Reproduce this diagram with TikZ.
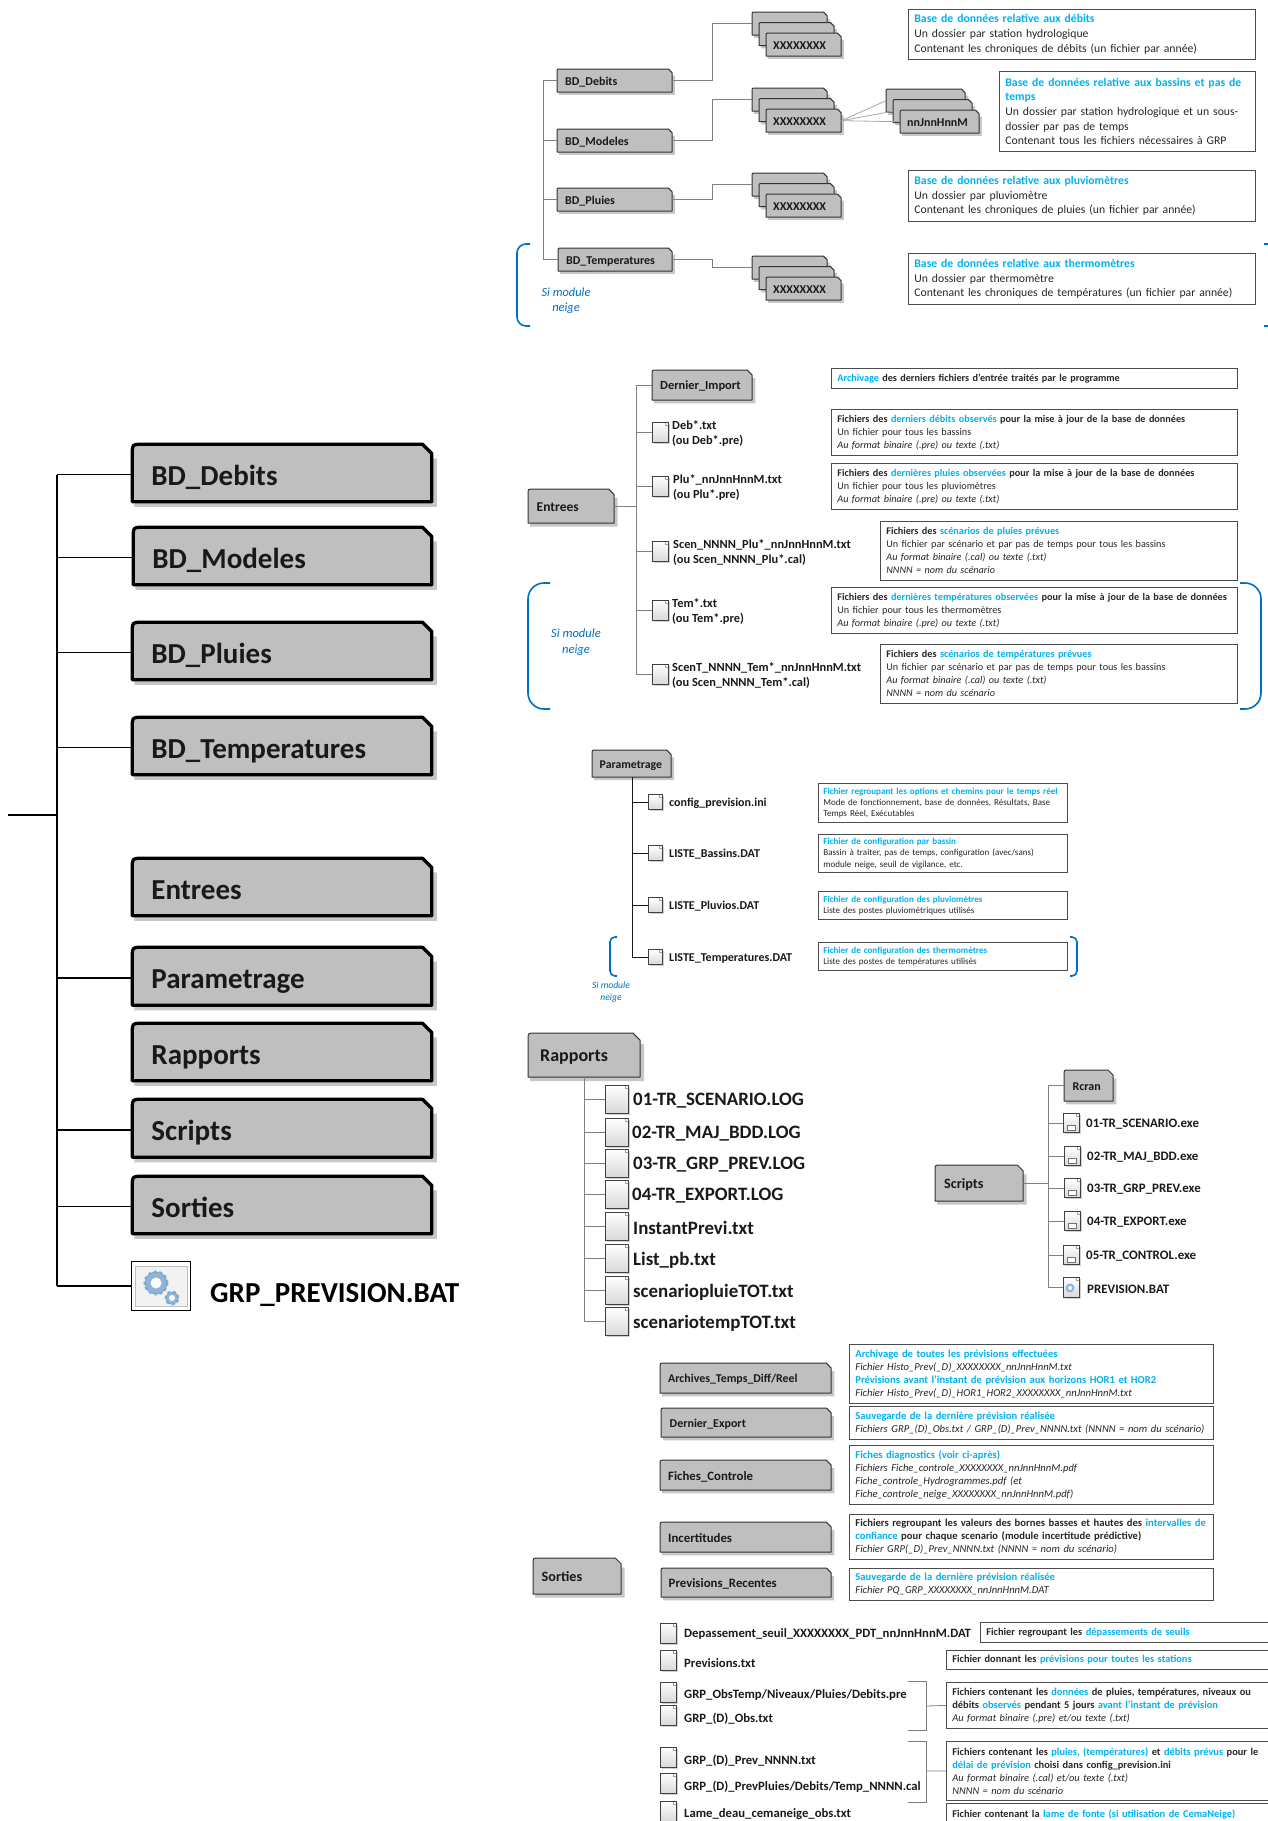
\documentclass[tikz,border=0pt]{standalone}
\usepackage{fontspec}
\setmainfont{Carlito}
\usepackage{xcolor}
\usepackage{tikz}
\usetikzlibrary{shadows}
\definecolor{cyantxt}{HTML}{00B0F0}
\definecolor{neigeblue}{HTML}{0070C0}
\definecolor{folderfill}{HTML}{BFBFBF}
\definecolor{gearblue}{HTML}{8FB4D9}
\newcommand*{\cy}[1]{\textcolor{cyantxt}{#1}}
\newcommand*{\foldernode}[8][]{\pgfmathsetmacro\fcut{#6*.16}\pgfmathsetmacro\fsh{1.5+#6*.06}\pgfmathsetmacro\ftw{#5-2*#7}%
\begin{scope}[shift={(#3,#4)}]\fill[black!22](2,#6)--(2,{#6+\fsh})--({#5+\fsh},{#6+\fsh})--({#5+\fsh},{\fcut+\fsh})--(#5,{\fcut+\fsh})--cycle;%
\filldraw[fill=folderfill,draw=black!80,line width=1pt,line join=round,#1](0,#6)--(#5,#6)--(#5,\fcut)--({#5-\fcut},0)--(\fcut,0)..controls(0,0)..(0,\fcut)--cycle;\end{scope}%
\node[foldertxt=12,#1,draw=none,anchor=north west,inner ysep=0pt,inner xsep=#7pt,minimum width=#5pt,minimum height=#6pt,text width=\ftw pt,align=left](#2)at(#3,#4){#8};}
\newcommand*{\folderstack}[5]{\pgfmathsetmacro\stkxb{#2+7}\pgfmathsetmacro\stkxc{#2+14}\pgfmathsetmacro\stkyb{#3+10.5}\pgfmathsetmacro\stkyc{#3+21}%
\foldernode{#1A}{#2}{#3}{#4}{23}{7}{}\foldernode{#1B}{\stkxb}{\stkyb}{#4}{23}{7}{}\foldernode{#1}{\stkxc}{\stkyc}{#4}{23}{7}{#5}}
\tikzset{
foldertxt/.style={font=\fontsize{#1}{#1}\selectfont\bfseries,text=black!90,text height=.75*#1pt,text depth=0pt},
bigfolder/.style={line width=3.3pt,draw=black,foldertxt=29},
fileicon/.style 2 args={draw=black!75,line width=.8pt,top color=white,bottom color=black!15,minimum width=#1pt,minimum height=#2pt,inner sep=0pt,
  drop shadow={shadow xshift=1.5pt,shadow yshift=-1.5pt,fill=black!30,opacity=.6},
  path picture={\draw[black!35,line width=.4pt]([xshift=-3pt]path picture bounding box.north east)--([xshift=-3pt,yshift=-3pt]path picture bounding box.north east)--([yshift=-3pt]path picture bounding box.north east);}},
filetxt/.style 2 args={anchor=west,inner sep=0pt,align=left,text=black!90,yshift=-.1*#1pt,font=\fontsize{#1}{#2}\selectfont\bfseries},
descbox/.style n args={4}{draw=black!70,line width=.8pt,anchor=north west,inner ysep=0pt,inner xsep=6pt,minimum height=#2pt,text width=#1pt-12pt,align=left,text=black!85,font=\fontsize{#3}{#4}\selectfont},
treeline/.style={draw=black!50,line width=.8pt},
darkline/.style={draw=black!90,line width=1pt},
neige/.style={draw=neigeblue,line width=1.6pt,rounded corners=#1pt},
neigetxt/.style 2 args={text=neigeblue,align=center,inner sep=0pt,font=\fontsize{#1}{#2}\selectfont\itshape}
}
\begin{document}
\begin{tikzpicture}[x=1pt,y=-1pt]
\clip(0,0)rectangle(1268,1821);

\foldernode[bigfolder]{lbdd}{132.3}{444.3}{299.5}{57.5}{17.5}{BD\_Debits}
\foldernode[bigfolder]{lbdm}{133.3}{527.3}{298.5}{57.5}{17.5}{BD\_Modeles}
\foldernode[bigfolder]{lbdp}{132.3}{622.3}{299.5}{57.5}{17.5}{BD\_Pluies}
\foldernode[bigfolder]{lbdt}{132.3}{717.3}{299.5}{57.5}{17.5}{BD\_Temperatures}
\foldernode[bigfolder]{lent}{132.3}{858.3}{299.5}{57.5}{17.5}{Entrees}
\foldernode[bigfolder]{lpar}{132.3}{947.3}{299.5}{58}{17.5}{Parametrage}
\foldernode[bigfolder]{lrap}{132.3}{1023.3}{299.5}{57.5}{17.5}{Rapports}
\foldernode[bigfolder]{lscr}{132.3}{1099.3}{299.5}{58}{17.5}{Scripts}
\foldernode[bigfolder]{lsor}{132.3}{1176.3}{299.5}{57.5}{17.5}{Sorties}
\node[draw=black,line width=1.5pt,fill=white,minimum width=59pt,minimum height=49pt,inner sep=0pt](lgear)at(161,1286){};
\draw[black!25,fill=black!5]([shift={(-26,-20)}]lgear.center)rectangle([shift={(26,20)}]lgear.center);
\foreach\sx/\sy/\r in{-5/-3/11,11/12/6}{
\draw[gearblue,line width=3pt,dash pattern=on 3pt off 2.5pt]([shift={(\sx,\sy)}]lgear.center)circle(\r pt);
\draw[gearblue!80!black,fill=gearblue,line width=.4pt]([shift={(\sx,\sy)}]lgear.center)circle(\r pt);
\fill[white]([shift={(\sx,\sy)}]lgear.center)circle(.5*\r pt);}
\node[filetxt={29}{32},text=black](lgrp)at(210,1292){GRP\_PREVISION.BAT};
\coordinate(lroot)at(8,815);
\coordinate(ltrunk)at(57,815);
\draw[draw=black,line width=1.4pt](lroot)--(ltrunk);
\draw[draw=black,line width=1.4pt](ltrunk|-lbdd.west)--(ltrunk|-lgear.west);
\foreach\n in{lbdd,lbdm,lbdp,lbdt,lpar,lscr,lsor,lgear}\draw[draw=black,line width=1.2pt](ltrunk|-\n.west)--(\n.west);

\foldernode{bdd}{557}{69}{115}{23}{8}{BD\_Debits}
\foldernode{bdm}{557}{129}{115}{23}{8}{BD\_Modeles}
\foldernode{bdp}{557}{188}{115}{23}{8}{BD\_Pluies}
\foldernode{bdt}{558}{248}{114}{23}{8}{BD\_Temperatures}
\folderstack{sdeb}{752}{12}{75}{XXXXXXXX}
\folderstack{smod}{752}{88}{75}{XXXXXXXX}
\folderstack{splu}{752}{173}{75}{XXXXXXXX}
\folderstack{stem}{752}{256}{75}{XXXXXXXX}
\folderstack{snn}{886}{89}{79}{nnJnnHnnM}
\coordinate(tbd)at(543,81);
\coordinate(cbd)at(712,81);
\draw[treeline](tbd|-bdd.west)--(tbd|-bdt.west);
\foreach\n in{bdd,bdm,bdp,bdt}\draw[treeline](tbd|-\n.west)--(\n.west);
\foreach\a/\b in{bdd/sdebA,bdm/smodA,bdp/spluA,bdt/stemA}\draw[treeline](\a.east)--(cbd|-\a.east)--(cbd|-\b.west)--(\b.west);
\foreach\b in{snnA,snnB,snn}\draw[draw=black!35,line width=.8pt](smod.east)--(\b.west);
\node[descbox={347}{50}{11.7}{14.6}](dbd)at(908,9){\cy{\bfseries Base de données relative aux débits}\\Un dossier par station hydrologique\\Contenant les chroniques de débits (un fichier par année)};
\node[descbox={256}{80}{11.7}{14.6}](dbm)at(999,71){\cy{\bfseries Base de données relative aux bassins et pas de temps}\\Un dossier par station hydrologique et un sous-dossier par pas de temps\\Contenant tous les fichiers nécessaires à GRP};
\node[descbox={347}{51}{11.7}{14.6}](dbp)at(908,170){\cy{\bfseries Base de données relative aux pluviomètres}\\Un dossier par pluviomètre\\Contenant les chroniques de pluies (un fichier par année)};
\node[descbox={347}{51}{11.7}{14.6}](dbt)at(908,253){\cy{\bfseries Base de données relative aux thermomètres}\\Un dossier par thermomètre\\Contenant les chroniques de températures (un fichier par année)};
\draw[neige=9](530,244)--(517,244)--(517,326)--(530,326);
\draw[neige=9](1264,244)--(1278,244)--(1278,326)--(1264,326);
\node[neigetxt={12.4}{15}](nbd)at(566,301){Si module\\neige};

\foldernode[foldertxt=13.5]{ent}{528}{489}{86}{34}{8.5}{Entrees}
\foldernode[foldertxt=12.4]{dimp}{652}{370}{100}{30}{8}{Dernier\_Import}
\foreach\n/\y/\x/\t in{fdeb/432/672/{Deb*.txt\\(ou Deb*.pre)},fplu/486/673/{Plu*\_nnJnnHnnM.txt\\(ou Plu*.pre)},fscn/551/673/{Scen\_NNNN\_Plu*\_nnJnnHnnM.txt\\(ou Scen\_NNNN\_Plu*.cal)},ftem/610/672/{Tem*.txt\\(ou Tem*.pre)},fsct/674/672/{ScenT\_NNNN\_Tem*\_nnJnnHnnM.txt\\(ou Scen\_NNNN\_Tem*.cal)}}{
\node[fileicon={16}{20}](\n)at(660,\y){};
\node[filetxt={12.4}{15}](\n txt)at(\x,\y){\t};}
\coordinate(tent)at(636,507);
\draw[treeline](tent|-dimp.west)--(tent|-fsct.west);
\draw[treeline](ent.east)--(tent|-ent.east);
\foreach\n in{dimp,fdeb,fplu,fscn,ftem,fsct}\draw[treeline](tent|-\n.west)--(\n.west);
\node[descbox={406}{20}{10.2}{13}](den)at(831,368){\textbf{\cy{Archivage} des derniers fichiers d’entrée traités par le programme}};
\node[descbox={406}{46}{10.2}{13}](dde)at(831,409){\textbf{Fichiers des \cy{derniers débits observés} pour la mise à jour de la base de données}\\Un fichier pour tous les bassins\\\textit{Au format binaire (.pre) ou texte (.txt)}};
\node[descbox={406}{46}{10.2}{13}](dpl)at(831,463){\textbf{Fichiers des \cy{dernières pluies observées} pour la mise à jour de la base de données}\\Un fichier pour tous les pluviomètres\\\textit{Au format binaire (.pre) ou texte (.txt)}};
\node[descbox={357}{59}{10.2}{13}](dsc)at(880,521){\textbf{Fichiers des \cy{scénarios de pluies prévues}}\\Un fichier par scénario et par pas de temps pour tous les bassins\\\textit{Au format binaire (.cal) ou texte (.txt)}\\\textit{NNNN = nom du scénario}};
\node[descbox={406}{46}{10.2}{13}](dte)at(831,587){\textbf{Fichiers des \cy{dernières températures observées} pour la mise à jour de la base de données}\\Un fichier pour tous les thermomètres\\\textit{Au format binaire (.pre) ou texte (.txt)}};
\node[descbox={357}{59}{10.2}{13}](dst)at(880,644){\textbf{Fichiers des \cy{scénarios de températures prévues}}\\Un fichier par scénario et par pas de temps pour tous les bassins\\\textit{Au format binaire (.cal) ou texte (.txt)}\\\textit{NNNN = nom du scénario}};
\draw[neige=16](550,583)--(528,583)--(528,709)--(550,709);
\draw[neige=16](1240,583)--(1261,583)--(1261,709)--(1240,709);
\node[neigetxt={12.6}{16}](nen)at(576,642){Si module\\neige};

\foldernode[foldertxt=11.8]{par}{592}{750}{79}{27}{7.5}{Parametrage}
\foreach\n/\y/\t in{pcfg/802/config\_prevision.ini,pbas/853/LISTE\_Bassins.DAT,pplu/905/LISTE\_Pluvios.DAT,ptem/957/LISTE\_Temperatures.DAT}{
\node[fileicon={14}{15}](\n)at(655,\y){};
\node[filetxt={12}{13}](\n txt)at(669,\y){\t};}
\coordinate(tpar)at(632,777);
\draw[darkline](par.south-|tpar)--(tpar|-ptem.west);
\foreach\n in{pcfg,pbas,pplu,ptem}\draw[darkline](tpar|-\n.west)--(\n.west);
\node[descbox={251}{39}{9.05}{11.3},inner xsep=5pt](dcf)at(818,783){\cy{\bfseries Fichier regroupant les options et chemins pour le temps réel}\\Mode de fonctionnement, base de données, Résultats, Base\\Temps Réel, Exécutables};
\node[descbox={251}{38}{9.05}{11.3},inner xsep=5pt](dba)at(818,834){\cy{\bfseries Fichier de configuration par bassin}\\Bassin à traiter, pas de temps, configuration (avec/sans)\\module neige, seuil de vigilance, etc.};
\node[descbox={251}{28}{9.05}{11.3},inner xsep=5pt](dpv)at(818,891){\cy{\bfseries Fichier de configuration des pluviomètres}\\Liste des postes pluviométriques utilisés};
\node[descbox={251}{28}{9.05}{11.3},inner xsep=5pt](dth)at(818,942){\cy{\bfseries Fichier de configuration des thermomètres}\\Liste des postes de températures utilisés};
\draw[neige=5](617,937)--(610,937)--(610,976)--(617,976);
\draw[neige=5](1070,937)--(1077,937)--(1077,976)--(1070,976);
\node[neigetxt={9.6}{11.5}](npa)at(611,992){Si module\\neige};

\foldernode[foldertxt=18]{rap}{528}{1033}{112}{44}{12}{Rapports}
\foreach\n/\y/\x/\t in{ra/1099/633/01-TR\_SCENARIO.LOG,rb/1132/632/02-TR\_MAJ\_BDD.LOG,rc/1163/633/03-TR\_GRP\_PREV.LOG,rd/1194/632/04-TR\_EXPORT.LOG,re/1226/633/InstantPrevi.txt,rf/1258/633/List\_pb.txt,rg/1290/633/scenariopluieTOT.txt,rh/1321/633/scenariotempTOT.txt}{
\node[fileicon={23}{28}](\n)at(616.5,\y){};
\node[filetxt={18.9}{20}](\n txt)at(\x,\y){\t};}
\coordinate(trap)at(584,1077);
\draw[treeline](rap.south-|trap)--(trap|-rh.west);
\foreach\n in{ra,rb,rc,rd,re,rf,rg,rh}\draw[treeline](trap|-\n.west)--(\n.west);

\foldernode[foldertxt=14.2]{scr}{935}{1165}{88}{36}{9}{Scripts}
\foldernode[foldertxt=12]{rcr}{1064}{1070}{49}{31}{8.5}{Rcran}
\foreach\n/\y/\x/\t in{sa/1123/1071/01-TR\_SCENARIO.exe,sb/1156/1072/02-TR\_MAJ\_BDD.exe,sc/1188/1072/03-TR\_GRP\_PREV.exe,sd/1221/1072/04-TR\_EXPORT.exe,se/1255/1071/05-TR\_CONTROL.exe}{
\node[fileicon={16}{19}](\n)at(\x,\y){};
\draw[black!55,fill=white,line width=.4pt]([shift={(-4,-3)}]\n.south)rectangle([shift={(4,-8)}]\n.south);
\node[filetxt={12.9}{13}](\n txt)at(\x+15,\y){\t};}
\node[fileicon={16}{20}](sf)at(1071,1287){};
\fill[gearblue]([shift={(-1,1)}]sf.center)circle(4.5pt);
\fill[white]([shift={(-1,1)}]sf.center)circle(2pt);
\node[filetxt={12.9}{13}](sftxt)at(1087,1288){PREVISION.BAT};
\coordinate(tscr)at(1048,1183);
\draw[treeline](scr.east)--(tscr|-scr.east);
\draw[treeline](tscr|-rcr.west)--(tscr|-sf.west);
\foreach\n in{rcr,sa,sb,sc,sd,se,sf}\draw[treeline](tscr|-\n.west)--(\n.west);

\foldernode[foldertxt=14.2]{sor}{533}{1558}{88}{36}{8.5}{Sorties}
\foldernode[foldertxt=11.9]{arc}{660}{1363}{171}{30}{8}{Archives\_Temps\_Diff/Reel}
\foldernode[foldertxt=12]{dex}{661}{1408}{170}{29}{8.5}{Dernier\_Export}
\foldernode[foldertxt=12.8]{fic}{660}{1460}{171}{30}{8}{Fiches\_Controle}
\foldernode[foldertxt=12.8]{inc}{660}{1522}{171}{30}{8}{Incertitudes}
\foldernode[foldertxt=12.8]{prr}{661}{1568}{170}{29}{7.5}{Previsions\_Recentes}
\node[descbox={364}{59}{10.6}{13}](dar)at(849,1344){\cy{\bfseries Archivage de toutes les prévisions effectuées}\\\textit{Fichier Histo\_Prev(\_D)\_XXXXXXXX\_nnJnnHnnM.txt}\\\cy{\bfseries Prévisions avant l’instant de prévision aux horizons HOR1 et HOR2}\\\textit{Fichier Histo\_Prev(\_D)\_HOR1\_HOR2\_XXXXXXXX\_nnJnnHnnM.txt}};
\node[descbox={364}{33}{10.6}{13}](dde2)at(849,1406){\cy{\bfseries Sauvegarde de la dernière prévision réalisée}\\\textit{Fichiers GRP\_(D)\_Obs.txt / GRP\_(D)\_Prev\_NNNN.txt (NNNN = nom du scénario)}};
\node[descbox={364}{59}{10.6}{13}](dfi)at(849,1445){\cy{\bfseries Fiches diagnostics (voir ci-après)}\\\textit{Fichiers Fiche\_controle\_XXXXXXXX\_nnJnnHnnM.pdf}\\\textit{Fiche\_controle\_Hydrogrammes.pdf (et}\\\textit{Fiche\_controle\_neige\_XXXXXXXX\_nnJnnHnnM.pdf)}};
\node[descbox={364}{45}{10.6}{13}](din)at(849,1514){\textbf{Fichiers regroupant les valeurs des bornes basses et hautes des \cy{intervalles de}}\\\textbf{\cy{confiance} pour chaque scenario (module incertitude prédictive)}\\\textit{Fichier GRP(\_D)\_Prev\_NNNN.txt (NNNN = nom du scénario)}};
\node[descbox={364}{32}{10.6}{13}](dpr)at(849,1568){\cy{\bfseries Sauvegarde de la dernière prévision réalisée}\\\textit{Fichier PQ\_GRP\_XXXXXXXX\_nnJnnHnnM.DAT}};
\foreach\n/\y/\ly/\t in{oa/1633/1633/Depassement\_seuil\_XXXXXXXX\_PDT\_nnJnnHnnM.DAT,ob/1660/1662/Previsions.txt,oc/1692/1694/{GRP\_ObsTemp/Niveaux/Pluies/Debits.pre},od/1715/1717/GRP\_(D)\_Obs.txt,oe/1757/1759/GRP\_(D)\_Prev\_NNNN.txt,of/1783/1785/{GRP\_(D)\_PrevPluies/Debits/Temp\_NNNN.cal},og/1811/1813/Lame\_deau\_cemaneige\_obs.txt}{
\node[fileicon={16}{20}](\n)at(668,\y){};
\node[filetxt={12.7}{13}](\n txt)at(684,\ly){\t};}
\node[descbox={295}{20}{10.4}{13}](dda)at(980,1622){\textbf{Fichier regroupant les \cy{dépassements de seuils}}};
\node[descbox={329}{19}{10.4}{13}](dpv2)at(946,1650){\textbf{Fichier donnant les \cy{prévisions pour toutes les stations}}};
\node[descbox={329}{46}{10.4}{13}](dob)at(946,1682){\textbf{Fichiers contenant les \cy{données} de pluies, températures, niveaux ou}\\\textbf{débits \cy{observés} pendant 5 jours \cy{avant l’instant de prévision}}\\\textit{Au format binaire (.pre) et/ou texte (.txt)}};
\node[descbox={329}{59}{10.4}{13}](dpv3)at(946,1741){\textbf{Fichiers contenant les \cy{pluies, (températures)} et \cy{débits prévus} pour le}\\\textbf{\cy{délai de prévision} choisi dans config\_prevision.ini}\\\textit{Au format binaire (.cal) et/ou texte (.txt)}\\\textit{NNNN = nom du scénario}};
\node[descbox={329}{22}{10.4}{13}](dla)at(946,1803){\textbf{Fichier contenant la \cy{lame de fonte (si utilisation de CemaNeige)}}};
\coordinate(ba)at(926,1706);
\coordinate(bb)at(926,1771);
\draw[treeline](908,1681)--(ba|-0,1681)--(ba|-0,1730)--(908,1730);
\draw[treeline](908,1741)--(bb|-0,1741)--(bb|-0,1802)--(908,1802);
\draw[treeline](ba)--(dob.west);
\draw[treeline](bb)--(dpv3.west);

\end{tikzpicture}
\end{document}
